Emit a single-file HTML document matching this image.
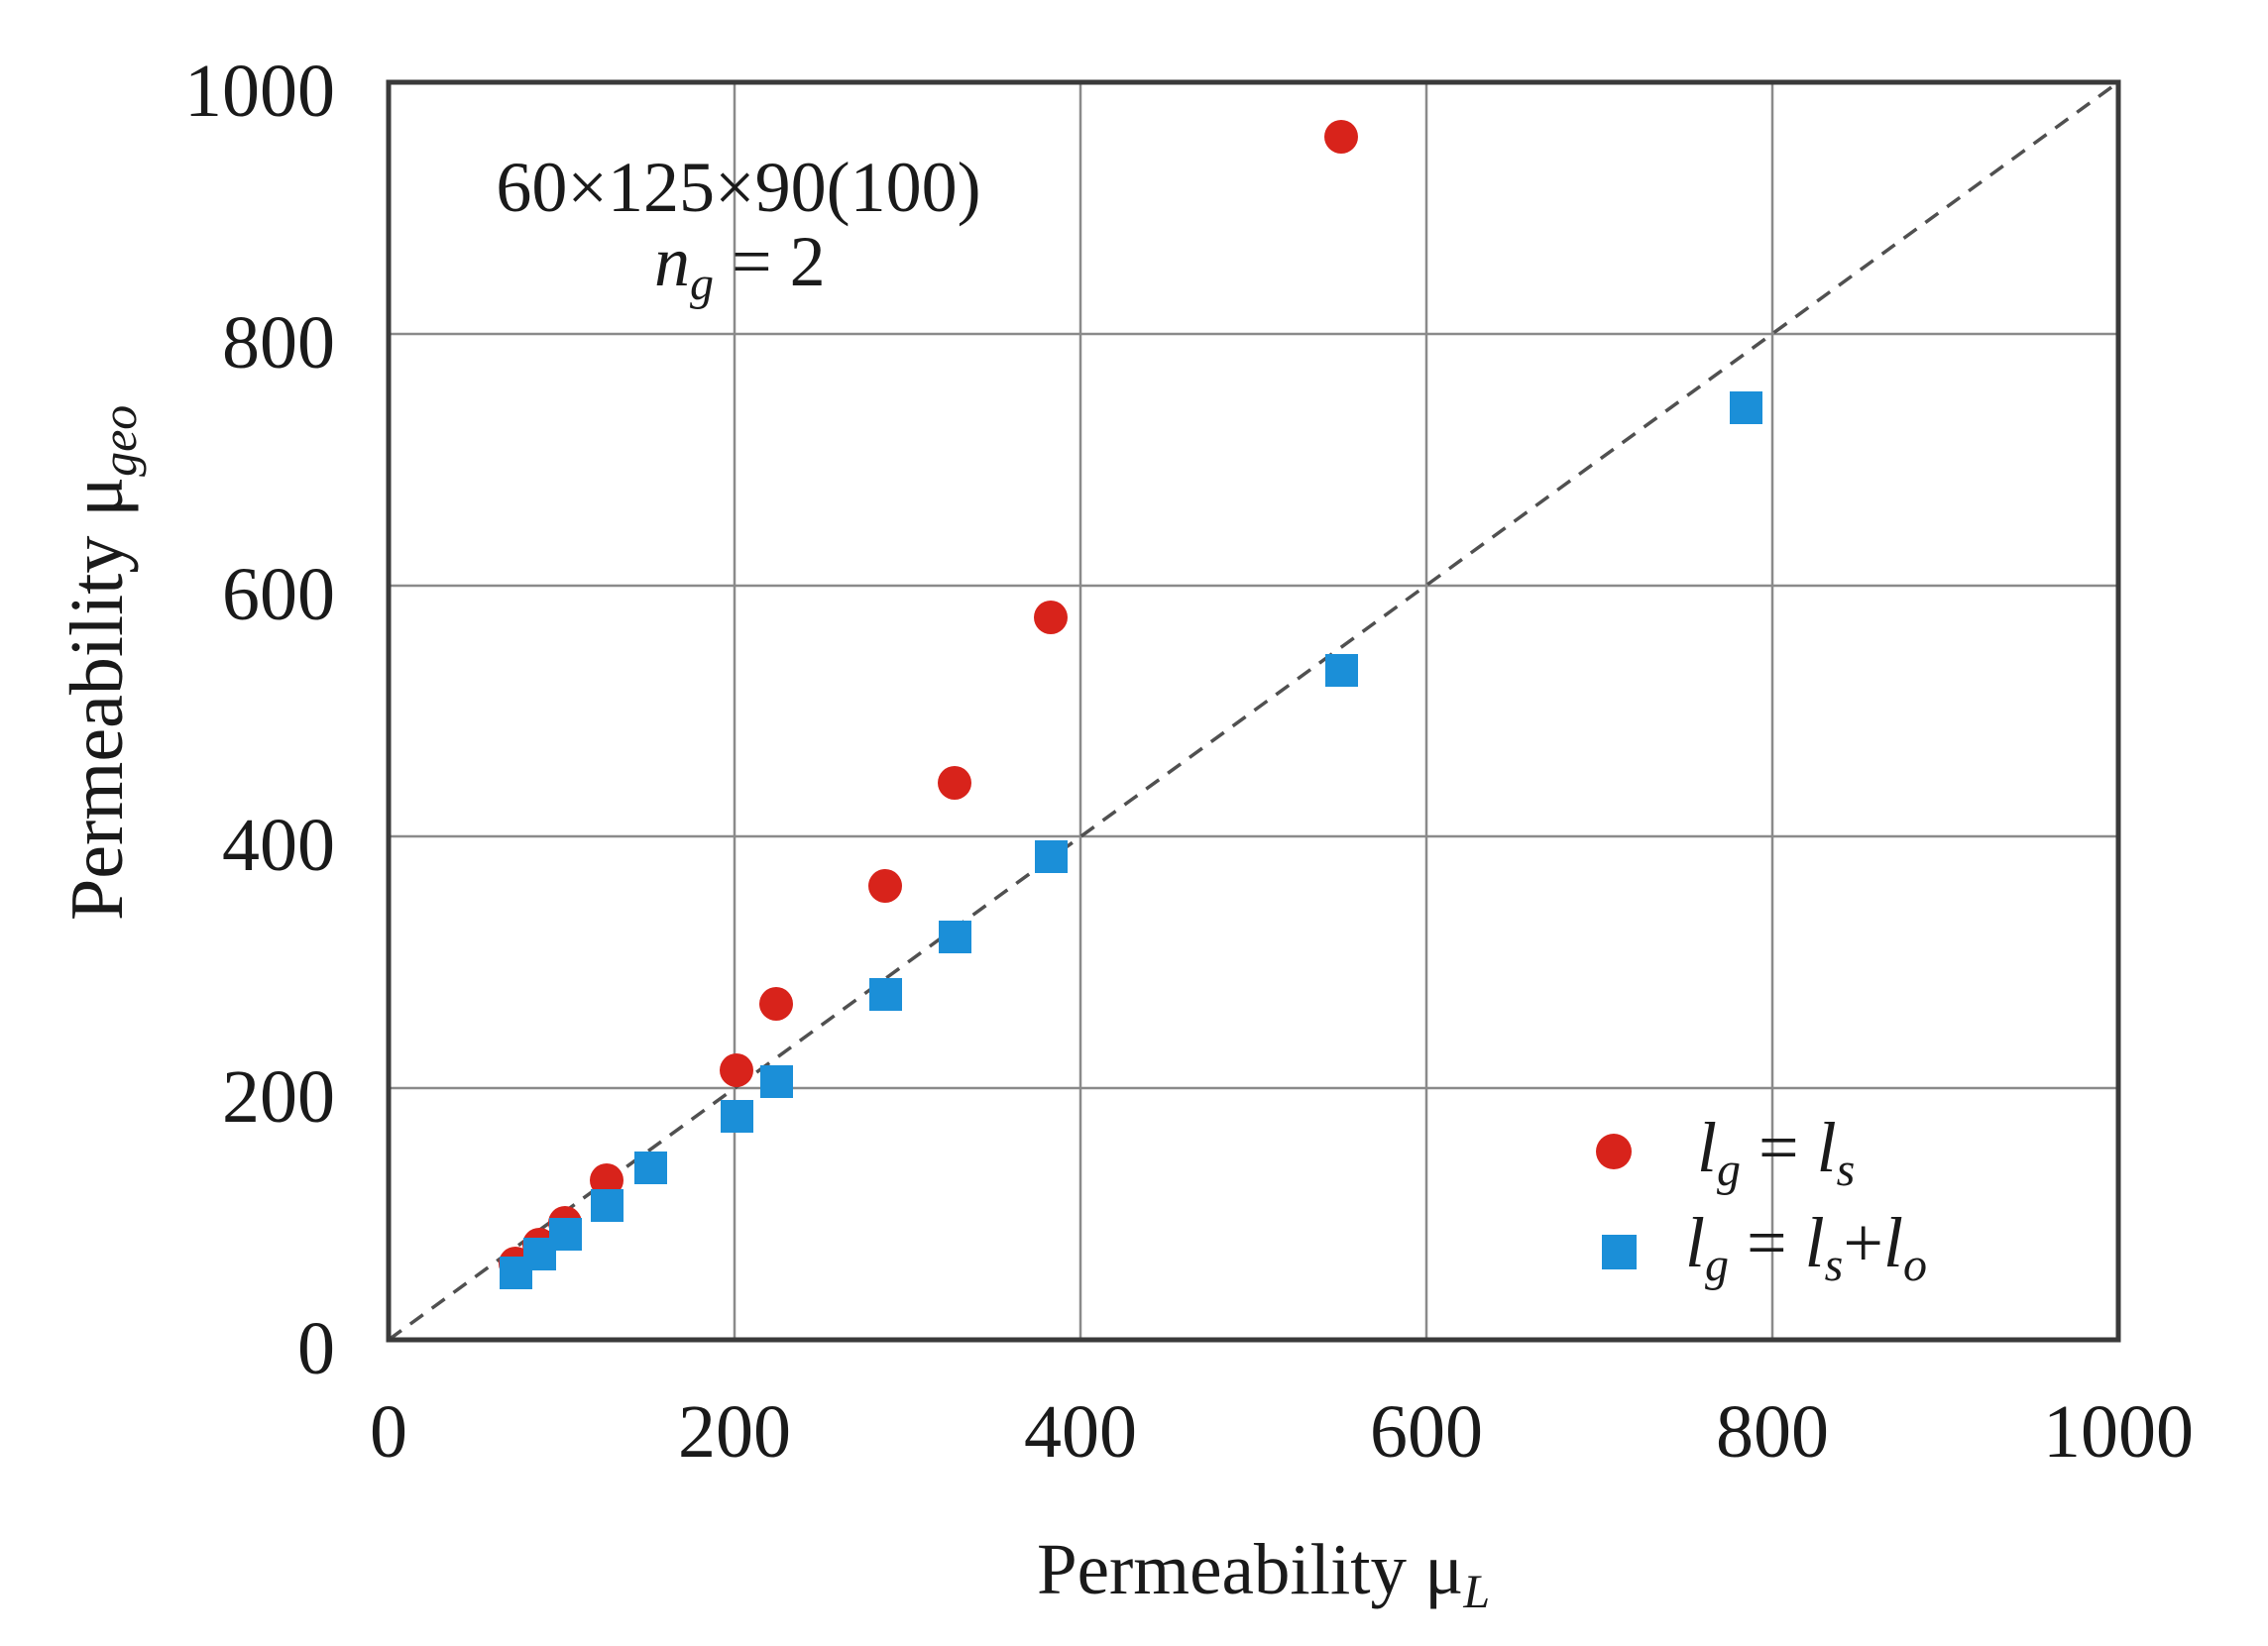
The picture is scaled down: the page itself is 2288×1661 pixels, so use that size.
<!DOCTYPE html>
<html><head><meta charset="utf-8"><style>
html,body{margin:0;padding:0;background:#fff;}
svg{display:block;}
text{font-family:"Liberation Serif",serif;fill:#1a1a1a;}
</style></head><body>
<svg width="2288" height="1661" viewBox="0 0 2288 1661" xmlns="http://www.w3.org/2000/svg">
<rect width="2288" height="1661" fill="#fff"/>
<g stroke="#8a8a8a" stroke-width="2.5">
<line x1="741" y1="83" x2="741" y2="1352"/>
<line x1="1090" y1="83" x2="1090" y2="1352"/>
<line x1="1439" y1="83" x2="1439" y2="1352"/>
<line x1="1788" y1="83" x2="1788" y2="1352"/>
<line x1="392" y1="337" x2="2137" y2="337"/>
<line x1="392" y1="591" x2="2137" y2="591"/>
<line x1="392" y1="844" x2="2137" y2="844"/>
<line x1="392" y1="1098" x2="2137" y2="1098"/>
</g>
<line x1="392" y1="1352" x2="2137" y2="83" stroke="#505050" stroke-width="3.5" stroke-dasharray="16,11"/>
<rect x="392" y="83" width="1745" height="1269" fill="none" stroke="#3a3a3a" stroke-width="5"/>
<g fill="#d8231b">
<circle cx="1353" cy="138" r="17"/>
<circle cx="1060" cy="623" r="17"/>
<circle cx="963" cy="790" r="17"/>
<circle cx="893" cy="894" r="17"/>
<circle cx="783" cy="1013" r="17"/>
<circle cx="743" cy="1080" r="17"/>
<circle cx="612" cy="1191" r="17"/>
<circle cx="570" cy="1234" r="17"/>
<circle cx="544" cy="1256" r="17"/>
<circle cx="520" cy="1275" r="17"/>
</g>
<g fill="#1b8fd8">
<rect x="1745" y="395" width="33" height="33"/>
<rect x="1337" y="660" width="33" height="33"/>
<rect x="1044" y="848" width="33" height="33"/>
<rect x="947" y="929" width="33" height="33"/>
<rect x="877" y="987" width="33" height="33"/>
<rect x="767" y="1075" width="33" height="33"/>
<rect x="727" y="1110" width="33" height="33"/>
<rect x="640" y="1162" width="33" height="33"/>
<rect x="596" y="1200" width="33" height="33"/>
<rect x="554" y="1229" width="33" height="33"/>
<rect x="528" y="1249" width="33" height="33"/>
<rect x="504" y="1268" width="33" height="33"/>
</g>
<g font-size="76" text-anchor="end">
<text x="338" y="117">1000</text>
<text x="338" y="371">800</text>
<text x="338" y="625">600</text>
<text x="338" y="878">400</text>
<text x="338" y="1132">200</text>
<text x="338" y="1386">0</text>
</g>
<g font-size="76" text-anchor="middle">
<text x="392" y="1470">0</text>
<text x="741" y="1470">200</text>
<text x="1090" y="1470">400</text>
<text x="1439" y="1470">600</text>
<text x="1788" y="1470">800</text>
<text x="2137" y="1470">1000</text>
</g>
<text x="1046" y="1608" font-size="73">Permeability μ<tspan font-style="italic" font-size="48" dy="14">L</tspan></text>
<text transform="translate(123,929) rotate(-90)" font-size="76">Permeability μ<tspan font-style="italic" font-size="50" dy="14">geo</tspan></text>
<text x="745" y="213" font-size="72" text-anchor="middle">60×125×90(100)</text>
<text x="660" y="288" font-size="72"><tspan font-style="italic">n</tspan><tspan font-style="italic" font-size="48" dy="14">g</tspan><tspan dy="-14"> = 2</tspan></text>
<circle cx="1628" cy="1162" r="18" fill="#d8231b"/>
<rect x="1616" y="1246" width="35" height="35" fill="#1b8fd8"/>
<text x="1712" y="1182" font-size="72"><tspan font-style="italic">l</tspan><tspan font-style="italic" font-size="48" dy="14">g</tspan><tspan dy="-14"> = </tspan><tspan font-style="italic">l</tspan><tspan font-style="italic" font-size="48" dy="14">s</tspan></text>
<text x="1700" y="1278" font-size="72"><tspan font-style="italic">l</tspan><tspan font-style="italic" font-size="48" dy="14">g</tspan><tspan dy="-14"> = </tspan><tspan font-style="italic">l</tspan><tspan font-style="italic" font-size="48" dy="14">s</tspan><tspan dy="-14">+</tspan><tspan font-style="italic">l</tspan><tspan font-style="italic" font-size="48" dy="14">o</tspan></text>
</svg>
</body></html>
